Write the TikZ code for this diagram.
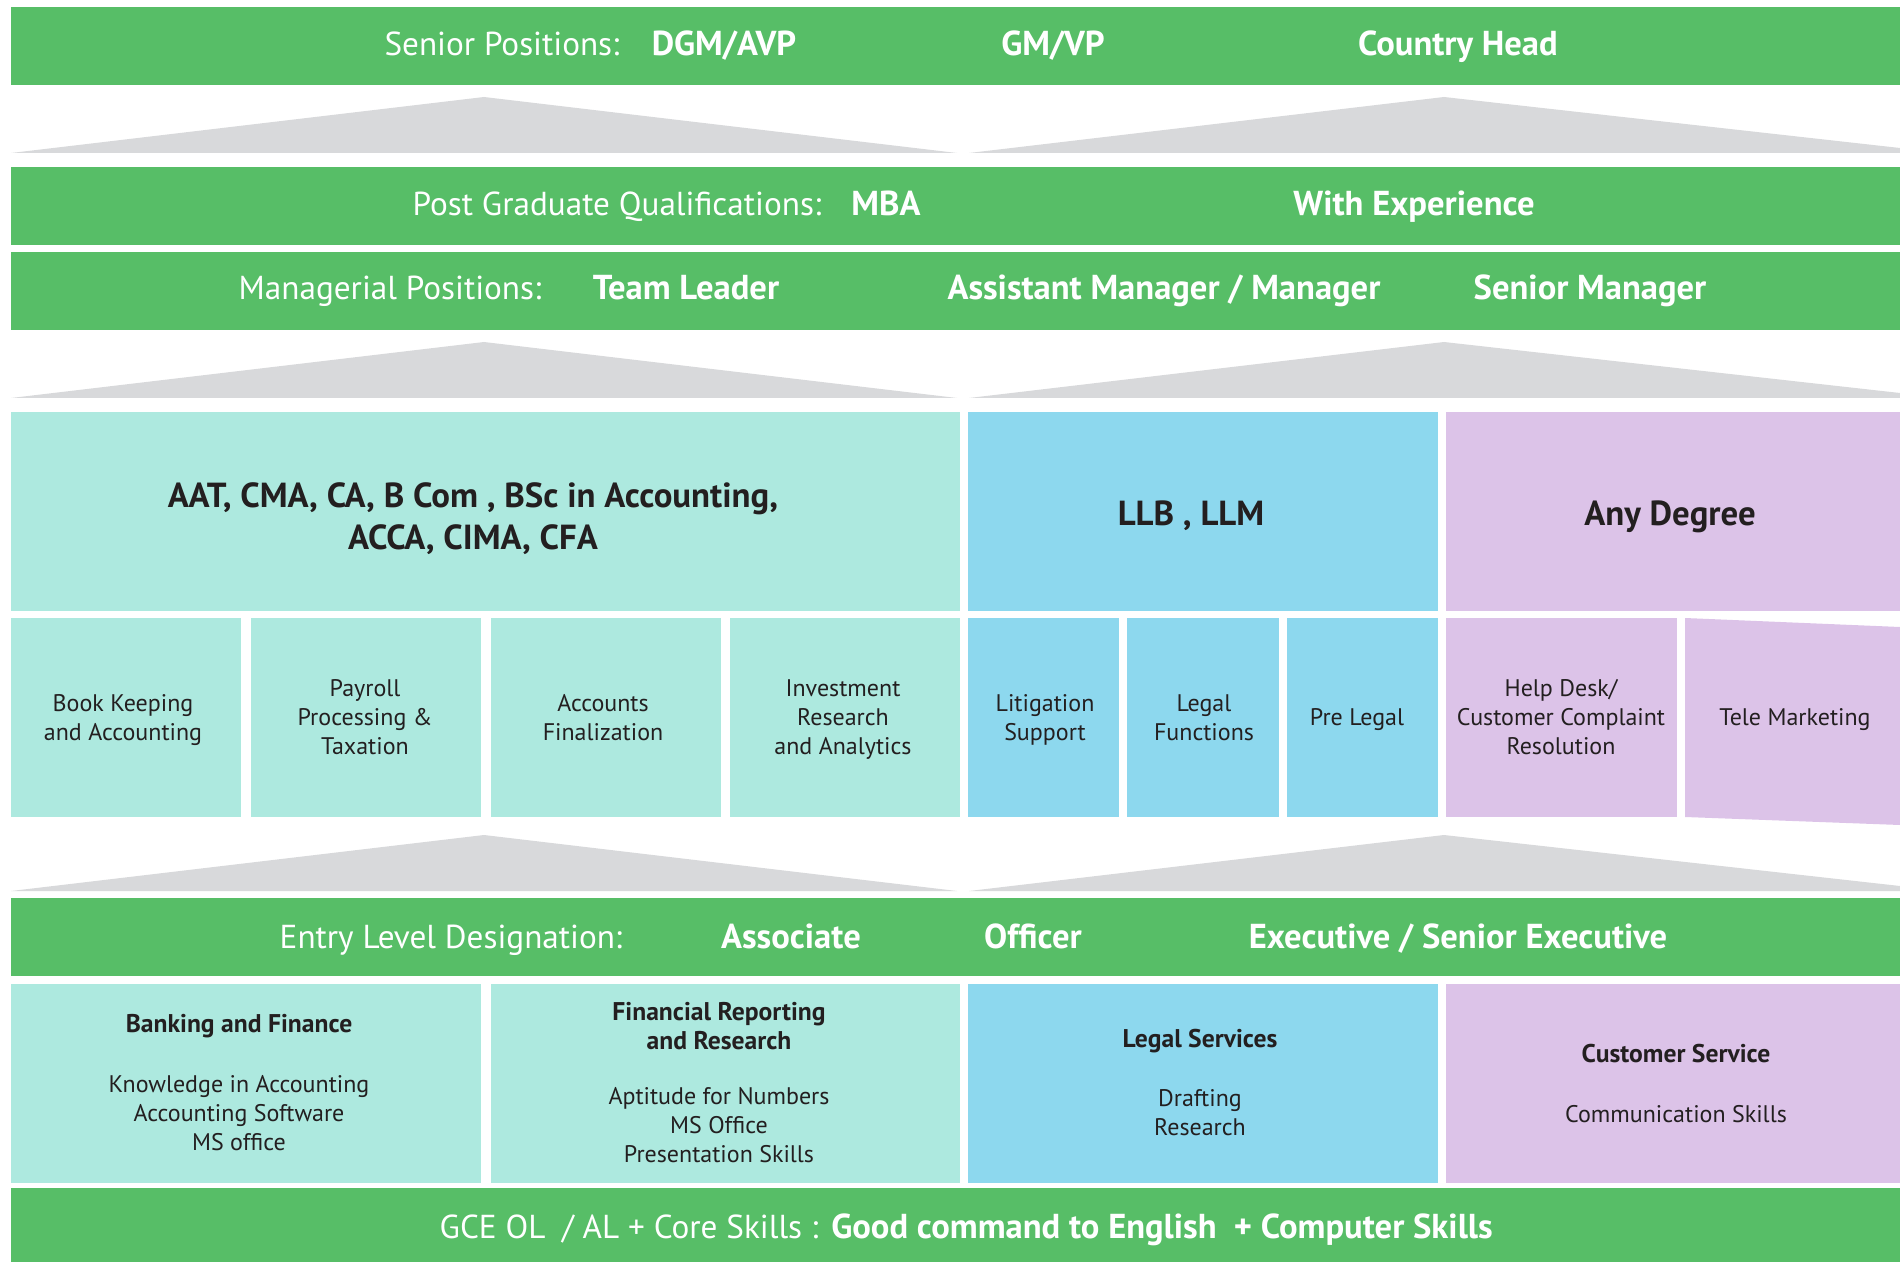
\documentclass[tikz,border=0pt]{standalone}
\usepackage{fontspec}
\setmainfont{PT Sans}
\definecolor{grn}{HTML}{57BE67}
\definecolor{tealbox}{HTML}{ADE9DF}
\definecolor{bluebox}{HTML}{8DD8EE}
\definecolor{purbox}{HTML}{DCC3E8}
\definecolor{gry}{HTML}{D8D9DB}
\definecolor{ink}{HTML}{231F20}
\begin{document}
\begin{tikzpicture}[x=0.5pt,y=-0.5pt,
  bartxt/.style={text=white,inner sep=0pt,anchor=base,font=\fontsize{16.6}{19}\selectfont},
  barbold/.style={bartxt,font=\fontsize{17.3}{19}\selectfont\bfseries},
  bigtxt/.style={text=ink,inner sep=0pt,anchor=base,align=center,font=\fontsize{17.4}{21}\selectfont\bfseries},
  smalltxt/.style={text=ink,inner sep=0pt,anchor=base,align=center,font=\fontsize{12}{14.5}\selectfont},
  headtxt/.style={text=ink,inner sep=0pt,anchor=base,align=center,font=\fontsize{12.8}{14.5}\selectfont\bfseries},
  roof/.style={fill=gry}]
\useasboundingbox (0,0) rectangle (1900,1262);
% green bars
\fill[grn] (11,7) rectangle (1900,85);
\fill[grn] (11,167) rectangle (1900,245);
\fill[grn] (11,252) rectangle (1900,330);
\fill[grn] (11,898) rectangle (1900,976);
\fill[grn] (11,1188) rectangle (1900,1262);
% roofs
\foreach \ya/\yb in {97/153,342/398,835/891}{
  \fill[roof] (11,\yb) -- (484,\ya) -- (957,\yb) -- cycle;
  \fill[roof] (969,\yb) -- (1444,\ya) -- (1900,\yb-5) -- (1900,\yb) -- cycle;
}
% qualification boxes
\fill[tealbox] (11,412) rectangle (960,611);
\fill[bluebox] (968,412) rectangle (1438,611);
\fill[purbox] (1446,412) rectangle (1900,611);
% role boxes
\fill[tealbox] (11,618) rectangle (241,817);
\fill[tealbox] (251,618) rectangle (481,817);
\fill[tealbox] (491,618) rectangle (721,817);
\fill[tealbox] (730,618) rectangle (960,817);
\fill[bluebox] (968,618) rectangle (1119,817);
\fill[bluebox] (1127,618) rectangle (1279,817);
\fill[bluebox] (1287,618) rectangle (1438,817);
\fill[purbox] (1446,618) rectangle (1677,817);
\fill[purbox] (1685,618) -- (1900,627) -- (1900,825) -- (1685,817) -- cycle;
% skill boxes
\fill[tealbox] (11,984) rectangle (481,1183);
\fill[tealbox] (491,984) rectangle (960,1183);
\fill[bluebox] (968,984) rectangle (1438,1183);
\fill[purbox] (1446,984) rectangle (1900,1183);

% bar texts
\node[bartxt] (sp) at (502,56) {Senior Positions:};
\node[barbold] (dgm) at (724,56) {DGM/AVP};
\node[barbold] (gm) at (1053,56) {GM/VP};
\node[barbold] (ch) at (1458,56) {Country Head};
\node[bartxt] (pg) at (617,216) {Post Graduate Qualifications:};
\node[barbold] (mba) at (886,216) {MBA};
\node[barbold] (we) at (1414,216) {With Experience};
\node[bartxt] (mp) at (390,300) {Managerial Positions:};
\node[barbold] (tl) at (686,300) {Team Leader};
\node[barbold] (am) at (1164,300) {Assistant Manager / Manager};
\node[barbold] (sm) at (1590,300) {Senior Manager};
\node[bartxt] (el) at (451,948) {Entry Level Designation:};
\node[barbold] (as) at (791,948) {Associate};
\node[barbold] (of) at (1033,948) {Officer};
\node[barbold] (ex) at (1458,948) {Executive / Senior Executive};
\node[bartxt] (gce) at (629,1238) {GCE OL\enspace/ AL + Core Skills :};
\node[barbold] (gc) at (1162,1238) {Good command to English\enspace+ Computer Skills};

% qualification texts
\node[bigtxt] (aat) at (473,549) {AAT, CMA, CA, B Com , BSc in Accounting,\\ACCA, CIMA, CFA};
\node[bigtxt] (llb) at (1191,525) {LLB , LLM};
\node[bigtxt] (any) at (1670,525) {Any Degree};

% role texts
\node[smalltxt] (bk) at (123,740) {Book Keeping\\and Accounting};
\node[smalltxt] (pp) at (365,754) {Payroll\\Processing \&\\Taxation};
\node[smalltxt] (af) at (603,740) {Accounts\\Finalization};
\node[smalltxt] (ir) at (843,754) {Investment\\Research\\and Analytics};
\node[smalltxt] (ls) at (1045,740) {Litigation\\Support};
\node[smalltxt] (lf) at (1204,740) {Legal\\Functions};
\node[smalltxt] (pl) at (1357,725) {Pre Legal};
\node[smalltxt] (hd) at (1561,754) {Help Desk/\\Customer Complaint\\Resolution};
\node[smalltxt] (tm) at (1795,725) {Tele Marketing};

% skill texts
\node[headtxt] (bf) at (239,1032) {Banking and Finance};
\node[smalltxt] (bfs) at (239,1150) {Knowledge in Accounting\\Accounting Software\\MS office};
\node[headtxt] (fr) at (719,1049) {Financial Reporting\\and Research};
\node[smalltxt] (frs) at (719,1162) {Aptitude for Numbers\\MS Office\\Presentation Skills};
\node[headtxt] (lsv) at (1200,1047) {Legal Services};
\node[smalltxt] (lss) at (1200,1135) {Drafting\\Research};
\node[headtxt] (cs) at (1676,1062) {Customer Service};
\node[smalltxt] (css) at (1676,1122) {Communication Skills};
\end{tikzpicture}
\end{document}
